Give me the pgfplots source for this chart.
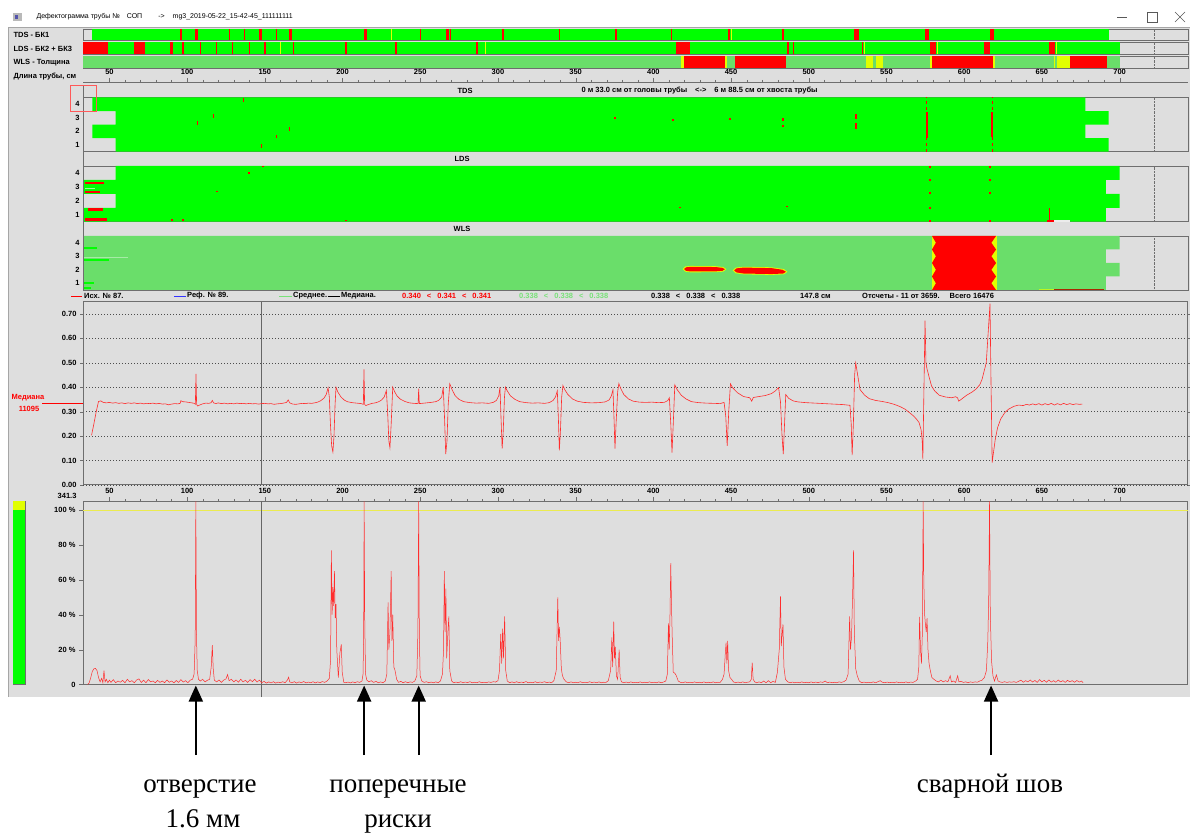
\documentclass[border=0pt]{standalone}
\usepackage{pgfplots}
\pgfplotsset{compat=1.18}
\usepackage{fontspec}
\setmainfont{Liberation Sans}
\newfontfamily\seriffont{Liberation Serif}
\usetikzlibrary{arrows.meta}
\definecolor{bgg}{RGB}{222,222,222}
\definecolor{brg}{RGB}{0,255,0}
\definecolor{wlsg}{RGB}{106,222,106}
\definecolor{rd}{RGB}{255,0,0}
\definecolor{yl}{RGB}{225,255,0}
\definecolor{ylline}{RGB}{235,235,80}
\definecolor{frm}{RGB}{110,110,110}
\definecolor{crv}{RGB}{255,45,45}
\definecolor{ltg}{RGB}{120,225,120}
\newcommand\lab{\bfseries\fontsize{7.5}{8}\selectfont}
\pgfplotsset{
 base/.style={scale only axis, width=1105pt, xmin=33, xmax=744, anchor=south west,
   axis line style={frm}, /pgf/number format/assume math mode=true,
   tick label style={font=\lab}, unbounded coords=jump},
 strip/.style={base, ymin=0, ymax=1, xtick=\empty, ytick=\empty},
 panel/.style={base, ymin=0.5, ymax=4.5, xtick=\empty, ytick={1,2,3,4}, major tick length=0pt, ytick style={draw=none}},
}
\begin{document}
\begin{tikzpicture}[x=1pt,y=1pt]
\fill[white] (0,0) rectangle (1190,832);
\path[use as bounding box] (0,0) rectangle (1190,832);
\fill[bgg] (8,135) rectangle (1190,805);
\draw[gray!70] (8,135) -- (8,805) -- (1190,805);
% title bar
\fill[gray!55] (13,811) rectangle (22,819);
\fill[blue!35!gray] (15,813) rectangle (18,817);
\node[anchor=west, font=\fontsize{7}{8}\selectfont] at (33,815) {Дефектограмма трубы №\hspace{7pt}СОП\hspace{16pt}->\hspace{8pt}mg3\_2019-05-22\_15-42-45\_111111111};
\draw[line width=0.6pt, gray!70!black] (1117,815) -- (1127,815);
\draw[line width=0.6pt, gray!70!black] (1147,810) rectangle (1157,820);
\draw[line width=0.6pt, gray!70!black] (1175,810) -- (1185,820) (1175,820) -- (1185,810);
% row labels
\node[anchor=west, font=\lab] at (10,797) {TDS - БК1};
\node[anchor=west, font=\lab] at (10,783.5) {LDS - БК2 + БК3};
\node[anchor=west, font=\lab] at (10,769.5) {WLS - Толщина};
\node[anchor=west, font=\lab] at (10,755) {Длина трубы, см};

% ---------- strip TDS ----------
\begin{axis}[strip, at={(83pt,792pt)}, height=11pt]
\addplot[fill=brg, draw=none] coordinates {(39,0)(39,1)(693,1)(693,0)};
\addplot[ycomb, rd, line width=1.2pt] coordinates {(96.1,1)(127.2,1)(136.8,1)(157.4,1)(250,1)(269.3,1)(339.7,1)(376,1)(411.8,1)(529.8,1)};
\addplot[ycomb, rd, line width=2.5pt] coordinates {(106,1)(147.1,1)(166.4,1)(214.7,1)(303.4,1)(267.4,1)(483.5,1)(531.5,1)(448.7,1)};
\addplot[ycomb, yl, line width=1.5pt] coordinates {(231.4,1)(450.3,1)};
\addplot[ycomb, rd, line width=4pt] coordinates {(576.2,1)(617.9,1)};
\addplot[densely dotted, frm] coordinates {(722,0)(722,1)};
\end{axis}
% ---------- strip LDS ----------
\begin{axis}[strip, at={(83pt,777.5pt)}, height=12pt]
\addplot[fill=brg, draw=none] coordinates {(33,0)(33,1)(700.2,1)(700.2,0)};
\addplot[fill=rd, draw=none] coordinates {(33,0)(33,1)(49.4,1)(49.4,0)};
\addplot[fill=rd, draw=none] coordinates {(65.5,0)(65.5,1)(73.2,1)(73.2,0)};
\addplot[fill=rd, draw=none] coordinates {(414.7,0)(414.7,1)(423.6,1)(423.6,0)};
\addplot[fill=rd, draw=none] coordinates {(578,0)(578,1)(582,1)(582,0)};
\addplot[fill=rd, draw=none] coordinates {(613,0)(613,1)(616.5,1)(616.5,0)};
\addplot[fill=rd, draw=none] coordinates {(654.5,0)(654.5,1)(658.4,1)(658.4,0)};
\addplot[ycomb, rd, line width=1pt] coordinates {(108.6,1)(118.9,1)(129.1,1)(140,1)(168.4,1)(490,1)(534.6,1)};
\addplot[ycomb, rd, line width=2.2pt] coordinates {(89.9,1)(97.6,1)(150,1)(202.2,1)(234.2,1)(286.4,1)(486.5,1)};
\addplot[ycomb, yl, line width=1.3pt] coordinates {(160.3,1)(291.8,1)(535.8,1)(582.8,1)(659.5,1)};
\addplot[densely dotted, frm] coordinates {(722,0)(722,1)};
\end{axis}
% ---------- strip WLS ----------
\begin{axis}[strip, at={(83pt,763.5pt)}, height=12pt]
\addplot[fill=wlsg, draw=none] coordinates {(33,0)(33,1)(700.2,1)(700.2,0)};
\addplot[fill=yl, draw=none] coordinates {(417.7,0)(417.7,1)(447.5,1)(447.5,0)};
\addplot[fill=yl, draw=none] coordinates {(536.6,0)(536.6,1)(541.3,1)(541.3,0)};
\addplot[fill=yl, draw=none] coordinates {(543.2,0)(543.2,1)(548,1)(548,0)};
\addplot[fill=yl, draw=none] coordinates {(657.8,0)(657.8,1)(668.2,1)(668.2,0)};
\addplot[fill=yl, draw=none] coordinates {(577.8,0)(577.8,1)(620,1)(620,0)};
\addplot[fill=rd, draw=none] coordinates {(419.6,0)(419.6,1)(446.2,1)(446.2,0)};
\addplot[fill=rd, draw=none] coordinates {(452.6,0)(452.6,1)(485.4,1)(485.4,0)};
\addplot[fill=rd, draw=none] coordinates {(579.3,0)(579.3,1)(618.7,1)(618.7,0)};
\addplot[fill=rd, draw=none] coordinates {(668.2,0)(668.2,1)(691.6,1)(691.6,0)};
\addplot[fill=wlsg, draw=none] coordinates {(658.6,0)(658.6,1)(659.6,1)(659.6,0)};
\addplot[densely dotted, frm] coordinates {(722,0)(722,1)};
\end{axis}
% ---------- length scale ----------
\begin{axis}[base, at={(83pt,747pt)}, height=3pt, ymin=0, ymax=1, axis x line=top, axis y line=none,
  x axis line style={-}, xtick={50,100,...,700}, minor x tick num=4, tick align=outside,
  major tick length=4pt, minor tick length=2pt, tick style={frm}]
\addplot[draw=none] coordinates {(50,0)(60,0)};
\end{axis}
% headers
\node[font=\lab] at (465,741) {TDS};
\node[anchor=west, font=\lab] at (578,741) {0 м 33.0 см от головы трубы\hspace{8pt}<->\hspace{8pt}6 м 88.5 см от хвоста трубы};
\node[font=\lab] at (462,673) {LDS};
\node[font=\lab] at (462,603) {WLS};

% ---------- TDS panel ----------
\begin{axis}[panel, at={(83pt,680.3pt)}, height=54.2pt]
\addplot[fill=brg, draw=none] coordinates {(39,4.5)(678,4.5)(678,3.5)(693,3.5)(693,2.5)(678,2.5)(678,1.5)(693,1.5)(693,0.5)(54,0.5)(54,1.5)(39,1.5)(39,2.5)(54,2.5)(54,3.5)(39,3.5)};
\addplot[rd, line width=1.4pt] coordinates {(106.6,2.45)(106.6,2.8)(nan,nan)(116.9,3.0)(116.9,3.3)(nan,nan)(136.3,4.2)(136.3,4.45)(nan,nan)(147.8,0.8)(147.8,1.05)(nan,nan)(157.4,1.5)(157.4,1.75)(nan,nan)(165.8,2.0)(165.8,2.3)(nan,nan)(375.4,2.9)(375.4,3.05)(nan,nan)(412.7,2.75)(412.7,2.9)(nan,nan)(449.4,2.85)(449.4,3.0)(nan,nan)(483.5,2.3)(483.5,2.5)(nan,nan)(483.5,2.75)(483.5,2.95)(nan,nan)(530.4,2.2)(530.4,2.6)(nan,nan)(530.4,2.9)(530.4,3.3)};
\addplot[rd, line width=1pt, dash pattern=on 3pt off 3pt] coordinates {(575.8,0.5)(575.8,4.5)(nan,nan)(617.9,0.5)(617.9,4.5)};
\addplot[rd, line width=2pt] coordinates {(575.8,1.5)(575.8,3.4)(nan,nan)(617.9,1.6)(617.9,3.4)};
\addplot[densely dotted, frm] coordinates {(722,0.5)(722,4.5)};
\end{axis}
% ---------- LDS panel ----------
\begin{axis}[panel, at={(83pt,610.3pt)}, height=55.7pt]
\addplot[fill=brg, draw=none] coordinates {(54,4.5)(700,4.5)(700,3.5)(691.2,3.5)(691.2,2.5)(700,2.5)(700,1.5)(691.2,1.5)(691.2,0.5)(33,0.5)(33,1.5)(54,1.5)(54,2.5)(33,2.5)(33,3.5)(54,3.5)};
\addplot[fill=rd, draw=none] coordinates {(34.6,3.2)(34.6,3.36)(46.2,3.36)(46.2,3.2)};
\addplot[fill=rd, draw=none] coordinates {(34.6,2.58)(34.6,2.7)(44,2.7)(44,2.58)};
\addplot[fill=rd, draw=none] coordinates {(36,1.3)(36,1.48)(46,1.48)(46,1.3)};
\addplot[fill=rd, draw=none] coordinates {(34.6,0.52)(34.6,0.78)(48.7,0.78)(48.7,0.52)};
\addplot[fill=white!60!brg, draw=none] coordinates {(34,2.85)(34,2.9)(41,2.9)(41,2.85)};
\addplot[rd, line width=2pt] coordinates {(119.3,2.6)(119.3,2.7)(nan,nan)(139.5,3.95)(139.5,4.05)(nan,nan)(149,4.4)(149,4.5)(nan,nan)(90.5,0.55)(90.5,0.68)(nan,nan)(97.6,0.55)(97.6,0.68)(nan,nan)(202,0.55)(202,0.65)(nan,nan)(578,4.35)(578,4.5)(nan,nan)(578,3.45)(578,3.55)(nan,nan)(578,2.5)(578,2.62)(nan,nan)(578,1.43)(578,1.55)(nan,nan)(578,0.5)(578,0.65)(nan,nan)(616.5,4.38)(616.5,4.5)(nan,nan)(616.5,3.45)(616.5,3.55)(nan,nan)(616.5,2.5)(616.5,2.62)(nan,nan)(616.5,0.5)(616.5,0.65)(nan,nan)(417,1.45)(417,1.55)(nan,nan)(486,1.55)(486,1.65)};
\addplot[rd, line width=1pt] coordinates {(655,0.5)(655,1.5)};
\addplot[fill=rd, draw=none] coordinates {(653,0.5)(653,0.65)(658,0.65)(658,0.5)};
\addplot[fill=white!85!gray, draw=none] coordinates {(658,0.5)(658,0.6)(668,0.6)(668,0.5)};
\addplot[densely dotted, frm] coordinates {(722,0.5)(722,4.5)};
\end{axis}
% ---------- WLS panel ----------
\begin{axis}[panel, at={(83pt,542pt)}, height=54pt]
\addplot[fill=wlsg, draw=none] coordinates {(33,4.5)(700,4.5)(700,3.5)(691.2,3.5)(691.2,2.5)(700,2.5)(700,1.5)(691.2,1.5)(691.2,0.5)(33,0.5)};
\addplot[fill=brg, draw=none] coordinates {(33,3.55)(33,3.72)(42,3.72)(42,3.55)};
\addplot[fill=white!40!wlsg, draw=none] coordinates {(33,2.86)(33,2.94)(62,2.94)(62,2.86)};
\addplot[fill=brg, draw=none] coordinates {(33,2.68)(33,2.76)(50,2.76)(50,2.68)};
\addplot[fill=brg, draw=none] coordinates {(33,0.95)(33,1.1)(40,1.1)(40,0.95)};
\addplot[fill=brg, draw=none] coordinates {(33,0.55)(33,0.7)(38,0.7)(38,0.55)};
\addplot[fill=yl, draw=none] coordinates {(418.8,2.05)(420.5,2.24)(424,2.28)(440,2.26)(445,2.2)(447,2.04)(445,1.86)(440,1.82)(424,1.81)(420.5,1.86)};
\addplot[fill=rd, draw=none] coordinates {(419.8,2.05)(421,2.18)(424,2.22)(440,2.2)(444.5,2.14)(446,2.04)(444.5,1.92)(440,1.88)(424,1.87)(421,1.92)};
\addplot[fill=yl, draw=none] coordinates {(451,1.95)(453,2.16)(458,2.22)(476,2.18)(484,2.05)(486.3,1.85)(484,1.66)(476,1.62)(458,1.66)(453,1.74)};
\addplot[fill=rd, draw=none] coordinates {(452,1.95)(453.5,2.1)(458,2.16)(476,2.12)(483,2.0)(485.3,1.85)(483.5,1.72)(476,1.68)(458,1.72)(453.5,1.8)};
\addplot[fill=yl, draw=none] coordinates {(579,4.5)(579,0.5)(620.9,0.5)(620.9,4.5)};
\addplot[fill=rd, draw=none] coordinates {(579.3,4.5)(581.8,4.0)(579.3,3.5)(581.8,3.0)(579.3,2.5)(581.8,2.0)(579.3,1.5)(581.8,1.0)(579.3,0.5)(620.5,0.5)(617.5,1.0)(620.5,1.5)(617.5,2.0)(620.5,2.5)(617.5,3.0)(620.5,3.5)(617.5,4.0)(620.5,4.5)};
\addplot[fill=yl!70!wlsg, draw=none] coordinates {(648,0.5)(648,0.6)(658,0.6)(658,0.5)};
\addplot[fill={rgb,255:red,170;green,40;blue,0}, draw=none] coordinates {(658,0.5)(658,0.6)(690,0.6)(690,0.5)};
\addplot[densely dotted, frm] coordinates {(722,0.5)(722,4.5)};
\end{axis}
\draw[frm, line width=0.8pt] (83,747) -- (83,542);
\draw[red!65, line width=0.8pt] (70,721) rectangle (96,747);

% ---------- legend row ----------
\draw[rd, line width=0.8pt] (71,536) -- (82,536);
\node[anchor=west, font=\lab, inner sep=1pt] at (83,536) {Исх. № 87.};
\draw[blue!80, line width=0.8pt] (174,536) -- (186,536);
\node[anchor=west, font=\lab, inner sep=1pt] at (186,536) {Реф. № 89.};
\draw[ltg, line width=0.8pt] (279,536) -- (292,536);
\node[anchor=west, font=\lab, inner sep=1pt] at (292,536) {Среднее.};
\draw[black, line width=0.8pt] (328,536) -- (340,536);
\node[anchor=west, font=\lab, inner sep=1pt] at (340,536) {Медиана.};
\node[anchor=west, font=\lab, inner sep=1pt, text=rd] at (401,536) {0.340\hspace{6pt}<\hspace{6pt}0.341\hspace{6pt}<\hspace{6pt}0.341};
\node[anchor=west, font=\lab, inner sep=1pt, text=ltg] at (518,536) {0.338\hspace{6pt}<\hspace{6pt}0.338\hspace{6pt}<\hspace{6pt}0.338};
\node[anchor=west, font=\lab, inner sep=1pt] at (650,536) {0.338\hspace{6pt}<\hspace{6pt}0.338\hspace{6pt}<\hspace{6pt}0.338};
\node[anchor=west, font=\lab, inner sep=1pt] at (799,536) {147.8 см};
\node[anchor=west, font=\lab, inner sep=1pt] at (861,536) {Отсчеты - 11 от 3659.\hspace{10pt}Всего 16476};

% ---------- thickness chart ----------
\begin{axis}[base, at={(83pt,347pt)}, height=183.3pt, ymin=0, ymax=0.75, xtick=\empty,
  ytick={0,0.1,0.2,0.3,0.4,0.5,0.6,0.7}, ymajorgrids,
  grid style={black!70, dash pattern=on 1pt off 2pt},
  yticklabel={\pgfmathprintnumber[fixed,fixed zerofill,precision=2]{\tick}},
  tick align=outside, major tick length=3pt, ytick style={frm}, axis line style={frm, line width=1pt}]
\addplot[black!60, line width=0.8pt] coordinates {(147.8,0)(147.8,0.75)};
\addplot[crv, line width=0.6pt] coordinates {
(38.5,0.203)(40,0.25)(41.5,0.30)(43,0.342)(44.5,0.344)(46,0.338)(48,0.336)(50,0.338)(52,0.335)(54,0.337)(56,0.334)(58,0.336)(60,0.333)(62,0.336)(64,0.334)(66,0.336)(68,0.333)(70,0.335)(72,0.332)(74,0.334)(76,0.333)(78,0.335)(80,0.332)(82,0.334)(84,0.331)(86,0.332)(88,0.328)(90,0.331)(92,0.333)(94,0.332)(95.5,0.334)(96,0.345)(97,0.341)(99,0.340)(101,0.338)(103,0.336)(104.8,0.334)(105.3,0.33)(105.7,0.455)(106.1,0.33)(106.8,0.323)(108,0.327)(110,0.332)(112,0.335)(114,0.334)(115.5,0.337)(116.2,0.346)(117,0.336)(118.5,0.333)(120,0.336)(122,0.333)(124,0.335)(126,0.332)(128,0.334)(130,0.332)(132,0.335)(134,0.333)(136,0.334)(138,0.332)(140,0.334)(142,0.332)(144,0.333)(146,0.331)(148,0.333)(150,0.334)(152,0.332)(154,0.333)(156,0.330)(158,0.332)(160,0.333)(162,0.335)(164,0.338)(165,0.348)(166,0.336)(168,0.331)(170,0.330)(172,0.332)(174,0.334)(176,0.333)(178,0.335)(180,0.334)(182,0.336)(184,0.339)(186,0.345)(188,0.355)(189.5,0.37)(190.7,0.398)(191.5,0.36)(192.2,0.25)(193,0.16)(193.8,0.135)(194.5,0.2)(195.2,0.33)(195.8,0.40)(197,0.38)(199,0.36)(201,0.348)(203,0.341)(206,0.337)(209,0.335)(212,0.333)(213.4,0.33)(213.8,0.473)(214.2,0.33)(215,0.325)(217,0.330)(219,0.334)(221,0.336)(223,0.340)(225,0.347)(226.8,0.36)(228.2,0.387)(229,0.30)(229.8,0.18)(230.5,0.152)(231.3,0.25)(232.3,0.40)(233.5,0.382)(235,0.365)(237,0.352)(240,0.342)(243,0.336)(246,0.334)(248.6,0.333)(249,0.394)(249.4,0.333)(251,0.334)(254,0.336)(257,0.338)(260,0.341)(262,0.347)(263.8,0.36)(264.8,0.40)(265.6,0.28)(266.4,0.126)(267.2,0.18)(268,0.33)(269,0.414)(270.5,0.39)(272.5,0.365)(275,0.35)(278,0.341)(282,0.337)(286,0.335)(290,0.336)(294,0.334)(297,0.338)(299,0.346)(300.5,0.365)(301.3,0.40)(302,0.27)(302.7,0.149)(303.4,0.22)(304.2,0.36)(304.8,0.40)(306,0.385)(308,0.365)(311,0.35)(314,0.341)(318,0.337)(322,0.335)(326,0.336)(330,0.334)(333,0.337)(335.5,0.346)(337,0.36)(338.2,0.385)(338.9,0.27)(339.5,0.142)(340.2,0.22)(341,0.36)(341.8,0.407)(343,0.39)(345,0.37)(348,0.352)(351,0.343)(355,0.338)(360,0.336)(365,0.337)(369,0.340)(371.5,0.348)(373,0.365)(374,0.39)(374.7,0.27)(375.3,0.149)(376,0.25)(377,0.38)(377.8,0.415)(379,0.395)(381,0.37)(384,0.352)(387,0.343)(391,0.339)(395,0.338)(399,0.339)(403,0.337)(407,0.338)(409.2,0.345)(410.3,0.357)(411.2,0.25)(412,0.133)(412.8,0.25)(413.8,0.41)(415.3,0.39)(418,0.367)(421,0.352)(424.5,0.341)(429,0.337)(434,0.335)(439,0.334)(443,0.333)(445.5,0.338)(446.6,0.28)(447.5,0.16)(448.5,0.30)(449.6,0.414)(451,0.398)(454,0.378)(458,0.362)(462,0.357)(463.3,0.343)(464.3,0.358)(468,0.362)(472,0.366)(476,0.374)(478.5,0.385)(480.6,0.398)(481.8,0.34)(482.8,0.2)(483.6,0.126)(484.4,0.25)(485.2,0.37)(487,0.355)(490,0.344)(493,0.34)(498,0.337)(504,0.335)(510,0.333)(516,0.331)(522,0.329)(526.5,0.326)(527.3,0.25)(527.9,0.122)(528.7,0.25)(529.5,0.45)(530.2,0.50)(531.2,0.46)(533,0.39)(536,0.367)(539,0.353)(543,0.346)(547,0.342)(551,0.337)(555,0.330)(559,0.320)(562,0.310)(565,0.295)(567.5,0.282)(569.5,0.268)(571,0.255)(572.3,0.225)(573,0.18)(573.4,0.105)(574,0.35)(574.8,0.673)(575.4,0.50)(576,0.477)(577.5,0.44)(579,0.405)(581,0.385)(584,0.367)(588,0.360)(592,0.357)(594.5,0.361)(595.7,0.357)(596.5,0.343)(598,0.350)(601.5,0.367)(605,0.380)(607.5,0.392)(610,0.41)(611.5,0.432)(613,0.47)(614.2,0.50)(615.2,0.60)(616,0.68)(616.6,0.742)(617.3,0.40)(618,0.092)(619,0.14)(620,0.187)(621.5,0.235)(623.5,0.27)(626,0.295)(628.5,0.31)(632,0.322)(635,0.327)(638,0.325)(640,0.330)(642,0.327)(644,0.332)(646,0.328)(648,0.333)(650,0.327)(652,0.333)(654,0.328)(656,0.334)(658,0.327)(660,0.333)(662,0.328)(664,0.334)(666,0.329)(668,0.333)(670,0.329)(672,0.332)(674,0.330)(676,0.331)};
\end{axis}
\draw[rd, line width=0.7pt] (42,428.5) -- (83,428.5);
\node[font=\lab, text=rd] at (28,434) {Медиана};
\node[font=\lab, text=rd] at (29,423) {11095};
\node[anchor=east, font=\lab] at (80,336) {341.3};

% ---------- gauge ----------
\begin{axis}[scale only axis, at={(13pt,147.5pt)}, anchor=south west, width=12pt, height=183.2pt,
  xmin=0, xmax=1, ymin=0, ymax=105, xtick=\empty, ytick=\empty, axis line style={frm}]
\addplot[fill=brg, draw=none] coordinates {(0,0)(0,100)(1,100)(1,0)};
\addplot[fill=yl, draw=none] coordinates {(0,100)(0,105)(1,105)(1,100)};
\end{axis}

% ---------- amplitude chart ----------
\begin{axis}[base, at={(83pt,147.5pt)}, height=183.2pt, ymin=0, ymax=105, clip=false,
  xtick={50,100,...,700}, minor x tick num=4, xtick pos=right, xticklabel pos=right,
  ytick={0,20,40,60,80,100}, yticklabels={0,20 \%,40 \%,60 \%,80 \%,100 \%}, ytick pos=left,
  tick align=outside, major tick length=4pt, minor tick length=2pt, tick style={frm},
  axis line style={frm, line width=1pt}]
\addplot[ylline, line width=0.5pt] coordinates {(33,100)(744,100)};
\addplot[black!60, line width=0.8pt] coordinates {(147.8,-7.3)(147.8,105)};
\addplot[crv, line width=0.5pt] coordinates {
(36,0)(37,1)(38,4)(39,7.5)(40,9)(41,9.2)(42,8)(43,4)(44,1.5)(45,3.5)(45.8,1)(46.5,8)(47.2,1.5)(48,3)(49,1)(50,2.5)(51,1.2)(52.5,2.8)(54,1)(55.5,2)(57,1.3)(58.5,2.4)(60,1)(61.5,3)(63,1.5)(64.5,2.2)(66,1)(67.5,2.6)(69,3.2)(70.5,1.2)(72,2.5)(73.5,1)(75,2.8)(76.5,1.5)(78,2)(79.5,1)(81,2.4)(82.5,1.2)(84,2)(85.5,1)(87,2.6)(88.5,1.3)(90,2)(91.5,1)(93,2.3)(94.5,1.2)(96,2.8)(97.5,1.4)(99,2.2)(100.5,1)(102,2.5)(103.5,3)(104.5,6)(105.2,26)(105.6,105)(106,30)(106.5,8)(107.3,3)(108.5,2)(110,3)(111.5,1.5)(113,2.4)(114.5,3)(115.5,10)(116.2,22.5)(116.8,9)(117.5,2.5)(119,1.5)(120.5,2.6)(122,1.2)(123.5,2.5)(125,3.2)(126,5.7)(127,2.2)(128.5,3)(130,1.5)(131.5,2.6)(133,1.3)(134.5,3)(136,1.5)(137.5,2.4)(139,1.2)(140.5,2.8)(142,1.6)(143.5,3)(145,1.4)(146.5,2.5)(148,1)(149.5,1.8)(151,0.8)(152.5,1.5)(154,0.9)(155.5,1.6)(157,0.8)(158.5,1.4)(160,1)(161.5,1.6)(163,1)(164.5,2.5)(165.3,4.2)(166,1.5)(167.5,1)(169,1.6)(170.5,0.8)(172,1.5)(173.5,1)(175,1.7)(176.5,0.9)(178,1.4)(179.5,1)(181,1.6)(182.5,0.9)(184,1.5)(185.5,1)(187,1.7)(188.5,1.2)(190,2)(191.5,3.5)(192.3,14)(192.8,76.8)(193.3,40)(193.8,55.8)(194.3,45)(194.8,65)(195.3,38)(195.8,46)(196.3,20)(196.8,12)(197.3,4)(198.3,18)(199.2,23)(199.8,7)(200.8,1.2)(202,1)(203.5,1.4)(205,0.9)(206.5,1.5)(208,1)(209.5,1.6)(211,1.2)(212.5,2)(213.2,6)(213.6,30)(213.9,105)(214.3,35)(214.8,6)(215.6,2.5)(217,1.5)(218.5,2.2)(220,1.2)(221.5,1.8)(223,1)(224.5,1.5)(226,1)(227.5,2)(228.5,6)(229.3,47)(229.8,20)(230.5,30)(231.3,65)(231.8,25)(232.3,40)(233,10)(233.8,8)(234.8,3)(236,1.2)(237.5,1.8)(239,1)(240.5,1.6)(242,1)(243.5,1.5)(245,1.2)(246.5,2)(247.8,5)(248.5,30)(249,105)(249.4,30)(249.9,5)(251,2)(252.5,1.2)(254,1.6)(255.5,1)(257,1.4)(258.5,1)(260,1.5)(261.5,1)(263,2)(264.3,6)(265,20)(265.5,65)(266,30)(266.5,55)(267,15)(267.8,30)(268.4,39)(269,8)(270.2,2)(271.5,1)(273,1.4)(274.5,1)(276,1.6)(277.5,1)(279,1.4)(280.5,1.1)(282,1.6)(283.5,1)(285,1.3)(286.5,1)(288,1.6)(289.5,1)(291,1.3)(292.5,1)(294,1.5)(295.5,1.2)(297,1.6)(298.5,1.4)(300,2.2)(301,8)(301.8,29)(302.4,12)(303,32)(303.6,15)(304.3,39)(305,8)(306,2)(307.5,1)(309,1.5)(310.5,1)(312,1.6)(313.5,1)(315,1.4)(316.5,1.1)(318,1.7)(319.5,1)(321,1.3)(322.5,1)(324,1.6)(325.5,1)(327,1.4)(328.5,1.2)(330,1.6)(331.5,1)(333,1.4)(334.5,1)(336,2.2)(337.5,8)(338.5,50)(339,25)(339.5,33)(340,26)(340.8,9)(341.5,5)(342.5,3)(344,1.5)(345.5,1)(347,1.5)(348.5,1)(350,1.3)(351.5,1)(353,1.6)(354.5,1)(356,1.3)(357.5,1)(359,1.6)(360.5,1.1)(362,1.4)(363.5,1)(365,1.5)(366.5,1)(368,1.3)(369.5,1.2)(371,2.2)(372.5,8)(373.3,27)(373.8,10)(374.5,36)(375,15)(375.5,21.5)(376.2,5)(377,3)(378,20)(378.6,4)(379.5,1.5)(381,1)(382.5,1.4)(384,1)(385.5,1.5)(387,1)(388.5,1.2)(390,1)(391.5,1.5)(393,1)(394.5,1.3)(396,1)(397.5,1.5)(399,1)(400.5,1.3)(402,1)(403.5,1.5)(405,1)(406.5,1.4)(408,2)(409,6)(409.7,35)(410.2,20)(410.7,40)(411.2,69.5)(411.7,44)(412.2,25)(412.8,7)(413.8,6.5)(414.8,5)(416,2)(417.5,1.2)(419,1)(420.5,1.5)(422,1)(423.5,1.3)(425,1)(426.5,1.5)(428,1)(429.5,1.3)(431,1)(432.5,1.5)(434,1)(435.5,1.3)(437,1)(438.5,1.5)(440,1)(441.5,1.3)(443,1.2)(444.5,3)(445.5,6)(446.3,18)(446.8,24)(447.3,12)(447.8,25)(448.4,8)(449.3,4)(450.3,3)(451.5,1.5)(453,1)(454.5,1.4)(456,1)(457.5,1.5)(459,1)(460.5,1.3)(462,1.5)(463,3)(463.6,12.5)(464.2,3)(465.2,1.5)(466.5,1)(468,1.5)(469.5,1)(471,2)(472.5,1)(474,2.2)(475.5,1)(477,1.8)(478.5,1.2)(479.8,7)(481,20)(481.8,50.5)(482.3,22)(482.8,28)(483.4,34.5)(484,10)(485,3)(486.5,1.5)(488,1)(489.5,1.4)(491,1)(492.5,1.3)(494,1)(495.5,1.5)(497,1)(498.5,1.3)(500,1)(501.5,1.5)(503,1)(504.5,1.4)(506,1)(507.5,1.5)(509,1.2)(510.5,2)(512,1)(513.5,1.4)(515,1)(516.5,1.3)(518,1)(519.5,1.5)(521,1.2)(522.5,1.6)(524,2.5)(525.3,6)(526.3,39)(526.8,20)(527.5,27)(528.3,55)(528.8,76.8)(529.3,30)(530.2,9)(531.2,5)(532.5,2)(534,1)(535.5,1.4)(537,1)(538.5,1.3)(540,1)(541.5,1.5)(543,1)(544.5,1.6)(546,2.2)(547.5,1.2)(549,1)(550.5,1.4)(552,1)(553.5,1.3)(555,1)(556.5,1.5)(558,1)(559.5,1.3)(561,1)(562.5,1.5)(564,1)(565.5,1.4)(567,1.2)(568.5,1.8)(570,3)(570.8,10)(571.3,38.7)(571.9,20)(572.5,12)(573.1,30)(573.6,105)(574,60)(574.5,40.6)(575,35)(575.6,30)(576.1,38)(576.7,20)(577.4,12)(578.2,8)(579.2,4)(580.5,3)(582,2)(583.5,1.5)(585,2.5)(586.5,1.5)(588,2.2)(589.5,1.5)(591,5)(591.8,1.5)(593,2)(594.5,1.2)(595.8,5)(596.6,1.5)(598,1.8)(599.5,1.2)(601,1.5)(602.5,1)(604,1.5)(605.5,1.2)(607,1.5)(608.5,1.3)(610,2)(611.5,2.5)(613,4)(614.3,8)(615.2,25)(615.8,51)(616.3,105)(616.8,40)(617.6,13.5)(618.5,5)(619.5,2)(620.7,5.5)(621.8,2)(623,1.5)(624.5,1.2)(626,1.6)(627.5,1.2)(629,1.5)(630.5,1.3)(632,1.6)(633.5,1.2)(635,1.8)(636.5,2.5)(638,1.3)(639.5,2.2)(641,1.5)(642.5,2.6)(644,1.4)(645.5,2.3)(647,1.2)(648.5,2.8)(650,1.5)(651.5,2.4)(653,1.3)(654.5,2.6)(656,1.4)(657.5,2.2)(659,1.3)(660.5,2.6)(662,1.5)(663.5,2.2)(665,1.2)(666.5,2.4)(668,1.5)(669.5,2.2)(671,1.3)(672.5,2.3)(674,1.4)(675.5,2)(676.5,1)};
\draw[line width=1.8pt, -{Triangle[width=14pt,length=16pt]}] (axis cs:105.6,-40.5) -- (axis cs:105.6,-0.6);
\draw[line width=1.8pt, -{Triangle[width=14pt,length=16pt]}] (axis cs:213.9,-40.5) -- (axis cs:213.9,-0.6);
\draw[line width=1.8pt, -{Triangle[width=14pt,length=16pt]}] (axis cs:249,-40.5) -- (axis cs:249,-0.6);
\draw[line width=1.8pt, -{Triangle[width=14pt,length=16pt]}] (axis cs:617.3,-40.5) -- (axis cs:617.3,-0.6);
\end{axis}

% ---------- annotations ----------
\node[anchor=base, font=\seriffont\fontsize{27}{30}\selectfont] at (200,40) {отверстие};
\node[anchor=base, font=\seriffont\fontsize{27}{30}\selectfont] at (203,5) {1.6 мм};
\node[anchor=base, font=\seriffont\fontsize{27}{30}\selectfont] at (398,40) {поперечные};
\node[anchor=base, font=\seriffont\fontsize{27}{30}\selectfont] at (398,5) {риски};
\node[anchor=base, font=\seriffont\fontsize{27}{30}\selectfont] at (990,40) {сварной шов};
\end{tikzpicture}
\end{document}
